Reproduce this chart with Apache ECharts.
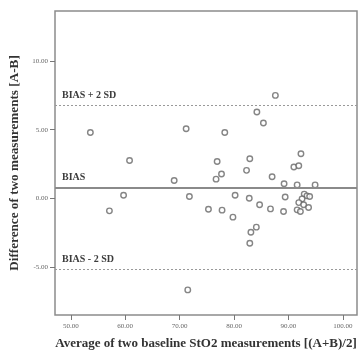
<!DOCTYPE html>
<html>
<head>
<meta charset="utf-8">
<script src="https://cdn.jsdelivr.net/npm/echarts@6/dist/echarts.min.js"></script>
<style>
  html, body { margin: 0; padding: 0; background: #fff; }
  #chart { width: 360px; height: 356px; }
</style>
</head>
<body>
<div id="chart"></div>
<script>
  // average of the two measurements (x) and their difference (y)
  var avgValues = [
    53.6, 60.8, 69.0, 59.7, 57.1, 87.6, 84.2, 85.4, 71.2, 78.3,
    76.9, 82.9, 82.3, 77.7, 76.7, 87.0, 89.2, 91.0, 91.9, 92.3,
    91.6, 94.9, 71.8, 80.2, 82.8, 84.7, 86.7, 75.3, 77.8, 79.8,
    84.1, 83.1, 82.9, 71.5, 89.4, 92.9, 93.4, 93.9, 92.5, 91.9,
    92.8, 93.7, 91.6, 92.2, 89.1
  ]
  var diffValues = [
    4.80, 2.76, 1.30, 0.23, -0.91, 7.50, 6.29, 5.49, 5.07, 4.80,
    2.68, 2.88, 2.04, 1.77, 1.40, 1.57, 1.06, 2.28, 2.37, 3.25,
    0.98, 0.98, 0.13, 0.22, 0.01, -0.47, -0.77, -0.79, -0.86, -1.37,
    -2.10, -2.47, -3.27, -6.67, 0.10, 0.31, 0.18, 0.13, -0.04, -0.31,
    -0.47, -0.67, -0.84, -0.96, -0.96
  ]
  var xTicks = [50, 60, 70, 80, 90, 100]
  var yTicks = [-5, 0, 5, 10]
  var limitNames = ['BIAS + 2 SD', 'BIAS', 'BIAS - 2 SD']
  var limitValues = [6.78, 0.80, -5.15]

  var serif = 'Liberation Serif'
  var points = avgValues.map(function (x, i) { return [x, diffValues[i]] })

  function limitLine(name, value, dashed) {
    return {
      yAxis: value,
      lineStyle: {
        color: dashed ? '#999' : '#8a8a8a',
        width: dashed ? 1.2 : 2,
        type: dashed ? [2, 2] : 'solid'
      },
      label: {
        show: true,
        position: 'insideStartTop',
        distance: [7, 5],
        formatter: name,
        fontFamily: serif,
        fontWeight: 'bold',
        fontSize: 10,
        color: '#3c3c3c'
      }
    }
  }

  var chart = echarts.init(document.getElementById('chart'))
  chart.setOption({
    animation: false,
    grid: {
      left: 55,
      right: 3,
      top: 11,
      bottom: 41,
      show: true,
      borderColor: '#8c8c8c',
      borderWidth: 1.5,
      containLabel: false,
      outerBoundsMode: 'none'
    },
    xAxis: {
      type: 'value',
      min: 47.1,
      max: 102.6,
      name: 'Average of two baseline StO2 measurements [(A+B)/2]',
      nameLocation: 'middle',
      nameGap: 22,
      nameTextStyle: { fontFamily: serif, fontWeight: 'bold', fontSize: 13, color: '#333' },
      splitLine: { show: false },
      axisLine: { show: false, onZero: false },
      axisTick: { show: true, length: 5, customValues: xTicks, lineStyle: { color: '#777' } },
      axisLabel: {
        customValues: xTicks,
        margin: 8,
        fontFamily: serif,
        fontSize: 7,
        color: '#666',
        formatter: function (v) { return v.toFixed(2) }
      }
    },
    yAxis: {
      type: 'value',
      min: -8.5,
      max: 13.65,
      name: 'Difference of two measurements [A-B]',
      nameLocation: 'middle',
      nameGap: 34,
      nameTextStyle: { fontFamily: serif, fontWeight: 'bold', fontSize: 13.2, color: '#333' },
      splitLine: { show: false },
      axisLine: { show: false, onZero: false },
      axisTick: { show: true, length: 5, customValues: yTicks, lineStyle: { color: '#777' } },
      axisLabel: {
        customValues: yTicks,
        margin: 7,
        fontFamily: serif,
        fontSize: 7,
        color: '#666',
        formatter: function (v) { return v.toFixed(2) }
      }
    },
    series: [{
      type: 'scatter',
      data: points,
      symbol: 'circle',
      symbolSize: 5.5,
      itemStyle: { color: '#fff', borderColor: '#666', borderWidth: 1.4 },
      markLine: {
        silent: true,
        symbol: 'none',
        data: [
          limitLine(limitNames[0], limitValues[0], true),
          limitLine(limitNames[1], limitValues[1], false),
          limitLine(limitNames[2], limitValues[2], true)
        ]
      }
    }]
  })
</script>
</body>
</html>
